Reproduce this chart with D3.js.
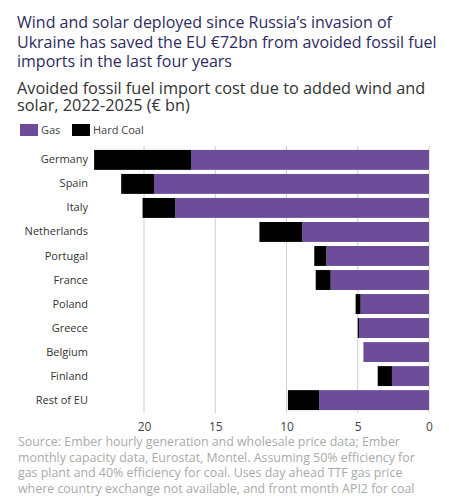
<!DOCTYPE html><html><head><meta charset="utf-8"><script src="https://cdn.jsdelivr.net/npm/d3@7"></script>
<style>body{margin:0;background:#fff;font-family:"Open Sans",sans-serif}</style></head><body><svg id="c" width="449" height="500"></svg>
<script>
const countries=["Germany","Spain","Italy","Netherlands","Portugal","France","Poland","Greece","Belgium","Finland","Rest of EU"];
const gas=[16.7,19.3,17.8,8.9,7.2,6.9,4.8,4.9,4.6,2.6,7.7];
const coal=[6.8,2.3,2.3,3.0,0.85,1.05,0.35,0.1,0,1.0,2.2];
const ticks=[20,15,10,5,0];
const svg=d3.select("#c");
const x=d3.scaleLinear().domain([20,0]).range([144,429]);
const y=d3.scaleBand().domain(countries).range([148,412]).paddingInner(0.17).paddingOuter(0.08);
const t=svg.append("g").attr("fill","#2e2b5f").attr("font-size","16px");
["Wind and solar deployed since Russia’s invasion of","Ukraine has saved the EU €72bn from avoided fossil fuel","imports in the last four years"].forEach((s,i)=>t.append("text").attr("x",17).attr("y",28+i*19.5).text(s));
const st=svg.append("g").attr("fill","#333").attr("font-size","16.3px");
["Avoided fossil fuel import cost due to added wind and","solar, 2022-2025 (€ bn)"].forEach((s,i)=>st.append("text").attr("x",17).attr("y",94+i*17).text(s));
const lg=svg.append("g").attr("font-size","11px").attr("fill","#444");
lg.append("rect").attr("x",20).attr("y",124).attr("width",18).attr("height",12).attr("fill","#6d4c9a");
lg.append("text").attr("x",41).attr("y",134).text("Gas");
lg.append("rect").attr("x",72).attr("y",124).attr("width",18).attr("height",12).attr("fill","#000");
lg.append("text").attr("x",93).attr("y",134).text("Hard Coal");
svg.append("g").selectAll("line").data(ticks).join("line").attr("x1",d=>x(d)).attr("x2",d=>x(d)).attr("y1",146).attr("y2",413).attr("stroke","#d0d0d0");
const bars=svg.append("g");
countries.forEach((c,i)=>{
bars.append("rect").attr("x",x(gas[i])).attr("width",x(0)-x(gas[i])).attr("y",y(c)).attr("height",y.bandwidth()).attr("fill","#6d4c9a");
if(coal[i]>0)bars.append("rect").attr("x",x(gas[i]+coal[i])).attr("width",x(gas[i])-x(gas[i]+coal[i])).attr("y",y(c)).attr("height",y.bandwidth()).attr("fill","#000");
});
const ya=svg.append("g").attr("transform","translate(91,0)").call(d3.axisLeft(y).tickSize(0).tickPadding(3));
ya.select(".domain").remove();ya.selectAll("text").attr("font-size","11px").attr("fill","#333").attr("font-family","Open Sans");
const xa=svg.append("g").attr("transform","translate(0,413)").call(d3.axisBottom(x).tickValues(ticks).tickSize(0).tickPadding(9));
xa.select(".domain").remove();xa.selectAll("text").attr("font-size","12px").attr("fill","#444").attr("font-family","Open Sans");
const src=svg.append("g").attr("fill","#aaa").attr("font-size","12.4px");
["Source: Ember hourly generation and wholesale price data; Ember","monthly capacity data, Eurostat, Montel. Assuming 50% efficiency for","gas plant and 40% efficiency for coal. Uses day ahead TTF gas price","where country exchange not available, and front month API2 for coal"].forEach((s,i)=>src.append("text").attr("x",18).attr("y",446+i*15.5).text(s));
</script></body></html>
